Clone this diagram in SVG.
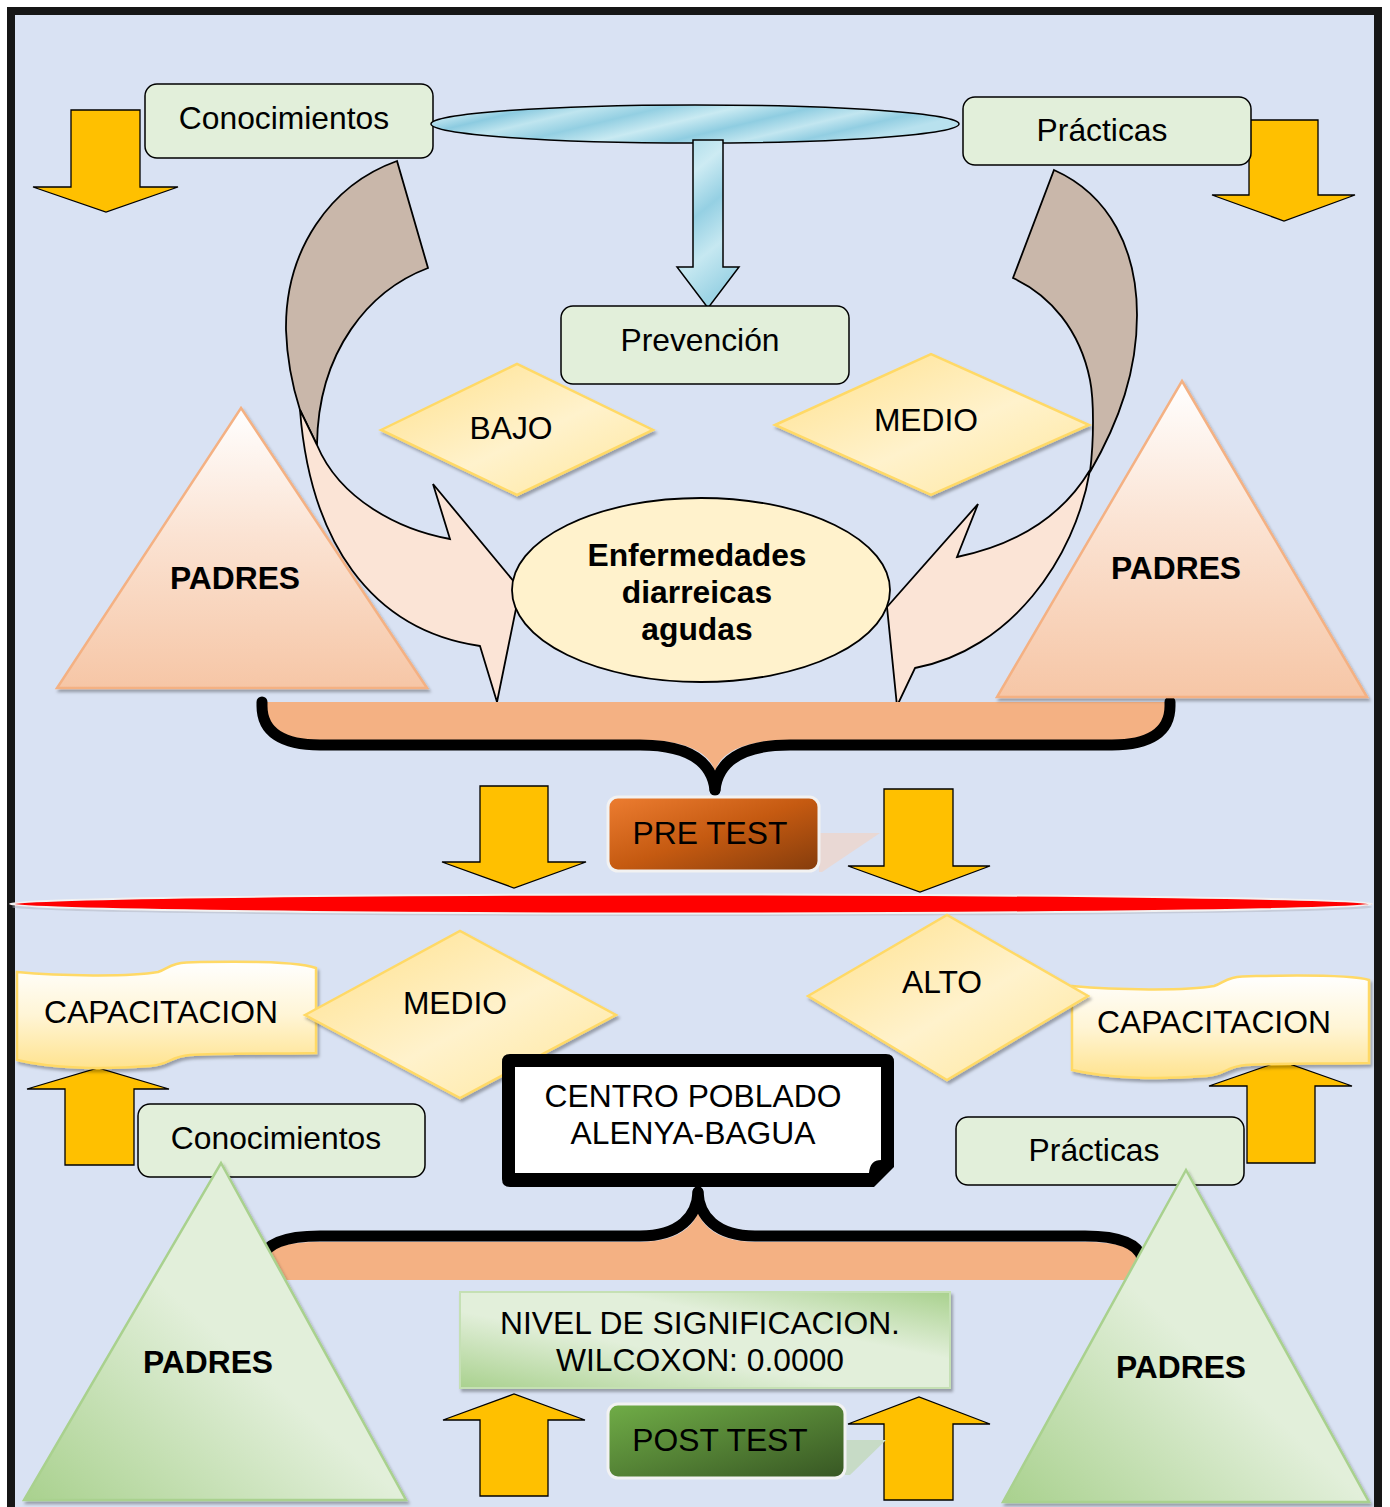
<svg xmlns="http://www.w3.org/2000/svg" width="1390" height="1507" viewBox="0 0 1390 1507">
<defs>
<style>
.t{font-family:"Liberation Sans",Arial,sans-serif;font-size:31.8px;text-anchor:middle;fill:#000}
.b{font-weight:bold}
.ya{fill:#ffc000;stroke:#000;stroke-width:1.3;stroke-linejoin:miter}
.gb{fill:#e2efda;stroke:#000;stroke-width:1.5}
.dia{fill:url(#gDia);stroke:#ffd966;stroke-width:2.5;filter:url(#sh)}
.ban{fill:url(#gBan);stroke:#ffd966;stroke-width:2.5;filter:url(#sh)}
.ot{fill:url(#gOT);stroke:#f4b183;stroke-width:2.5;filter:url(#sh)}
.gt{fill:url(#gGT);stroke:#a9d18e;stroke-width:2.5;filter:url(#sh)}
.brown{fill:#c9b7aa;stroke:#000;stroke-width:1.8;stroke-linejoin:miter}
.pink{fill:#fbe4d6;stroke:#000;stroke-width:1.8;stroke-linejoin:miter}
.brace{fill:none;stroke:#000;stroke-width:11;stroke-linecap:round}
</style>
<filter id="sh" x="-10%" y="-10%" width="125%" height="125%">
<feDropShadow dx="2" dy="3" stdDeviation="1.5" flood-color="#000" flood-opacity="0.3"/>
</filter>
<linearGradient id="gDia" x1="0" y1="0" x2="1" y2="1">
<stop offset="0" stop-color="#ffe08a"/><stop offset="0.55" stop-color="#fff2cc"/><stop offset="1" stop-color="#ffe699"/>
</linearGradient>
<linearGradient id="gBan" x1="0" y1="0" x2="0" y2="1">
<stop offset="0" stop-color="#ffffff"/><stop offset="0.5" stop-color="#fff5d6"/><stop offset="1" stop-color="#ffe38f"/>
</linearGradient>
<linearGradient id="gOT" x1="0" y1="0" x2="0" y2="1">
<stop offset="0" stop-color="#ffffff"/><stop offset="0.45" stop-color="#fbe3d3"/><stop offset="1" stop-color="#f6c6a6"/>
</linearGradient>
<linearGradient id="gGT" x1="0" y1="1" x2="1" y2="0">
<stop offset="0" stop-color="#a9d18e"/><stop offset="0.5" stop-color="#e2efda"/><stop offset="1" stop-color="#e2efda"/>
</linearGradient>
<linearGradient id="gNiv" x1="0" y1="1" x2="1" y2="0">
<stop offset="0" stop-color="#a9d18e"/><stop offset="0.4" stop-color="#e2efda"/><stop offset="0.65" stop-color="#e2efda"/><stop offset="1" stop-color="#a9d18e"/>
</linearGradient>
<linearGradient id="gPre" x1="0" y1="0" x2="1" y2="1">
<stop offset="0" stop-color="#ed7d31"/><stop offset="0.5" stop-color="#c55a11"/><stop offset="1" stop-color="#843c0c"/>
</linearGradient>
<linearGradient id="gPost" x1="0" y1="0" x2="1" y2="1">
<stop offset="0" stop-color="#70ad47"/><stop offset="0.5" stop-color="#548235"/><stop offset="1" stop-color="#375623"/>
</linearGradient>
<linearGradient id="gWater" x1="0" y1="0" x2="1" y2="0.3">
<stop offset="0" stop-color="#9fd6e6"/><stop offset="0.1" stop-color="#c6e9f2"/><stop offset="0.2" stop-color="#8ccbe0"/><stop offset="0.3" stop-color="#bfe5ef"/><stop offset="0.42" stop-color="#93cfe2"/><stop offset="0.55" stop-color="#c9eaf2"/><stop offset="0.68" stop-color="#8fcde1"/><stop offset="0.8" stop-color="#c2e6f0"/><stop offset="0.9" stop-color="#92cee2"/><stop offset="1" stop-color="#b8e1ee"/>
</linearGradient>
<linearGradient id="gWaterV" x1="0" y1="0" x2="0.3" y2="1">
<stop offset="0" stop-color="#a7dae8"/><stop offset="0.25" stop-color="#cdebf3"/><stop offset="0.5" stop-color="#95d0e3"/><stop offset="0.75" stop-color="#c6e8f1"/><stop offset="1" stop-color="#9dd4e5"/>
</linearGradient>
</defs>

<rect id="frame" x="11" y="11" width="1367" height="1515" fill="#d9e2f3" stroke="#161616" stroke-width="8"/>

<g id="connectors">
<path class="brown" d="M397,161 C330,185 285,250 286,330 C287,360 292,385 300,410 L317,445 C318,350 370,290 428,268 Z"/>
<path class="pink" d="M300,410 C310,540 370,630 480,646 L497,702 L520,589 L433,484 L450,539 C400,530 340,500 317,445 Z"/>
<path class="brown" d="M1054,170 C1110,195 1137,250 1137,315 C1137,370 1120,420 1090,472 C1094,440 1094,400 1090,380 C1080,330 1050,295 1013,278 Z"/>
<path class="pink" d="M1090,470 C1075,560 1010,650 915,668 L897,706 L887,607 L978,504 L957,557 C1010,546 1060,520 1090,470 Z"/>
<path d="M262,702 L1170,702 L1170,706 C1170,728 1150,740 1112,740 L790,740 C745,740 720,752 715,772 C710,752 685,740 640,740 L320,740 C282,740 262,728 262,706 Z" fill="#f4b183"/>
<path class="brace" d="M262,702 L262,706 C262,732 282,745 320,745 L640,745 C690,745 712,762 715,790"/>
<path class="brace" d="M1170,702 L1170,706 C1170,732 1150,745 1112,745 L790,745 C740,745 718,762 715,790"/>
<path d="M262,1280 L262,1262 C265,1248 285,1242 320,1242 L640,1242 C675,1242 693,1228 698,1212 C703,1228 721,1242 755,1242 L1085,1242 C1118,1242 1138,1248 1142,1262 L1142,1280 Z" fill="#f4b183"/>
<path class="brace" d="M262,1258 C266,1244 285,1236 320,1236 L640,1236 C680,1236 697,1216 698,1192"/>
<path class="brace" d="M1142,1258 C1138,1244 1119,1236 1085,1236 L755,1236 C716,1236 699,1216 698,1192"/>
<polygon class="ya" points="71,110 140,110 140,187 178,187 106,212 33,187 71,187"/>
<polygon class="ya" points="1249,120 1318,120 1318,195 1355,195 1284,221 1212,195 1249,195"/>
<polygon class="ya" points="480,786 548,786 548,862 586,862 514,888 442,862 480,862"/>
<polygon class="ya" points="884,789 953,789 953,866 990,866 920,892 848,866 884,866"/>
<polygon class="ya" points="65,1165 134,1165 134,1089 169,1089 98,1068 27,1089 65,1089"/>
<polygon class="ya" points="1247,1163 1315,1163 1315,1086 1352,1086 1281,1061 1209,1086 1247,1086"/>
<polygon class="ya" points="480,1496 548,1496 548,1420 585,1420 514,1394 443,1420 480,1420"/>
<polygon class="ya" points="884,1500 953,1500 953,1424 990,1424 919,1397 848,1424 884,1424"/>
</g>

<g id="conocimientos-top">
<rect class="gb" x="145" y="84" width="288" height="74" rx="12"/>
<text class="t" x="284" y="129">Conocimientos</text>
</g>
<g id="practicas-top">
<rect class="gb" x="963" y="97" width="288" height="68" rx="12"/>
<text class="t" x="1102" y="141">Prácticas</text>
</g>
<g id="bar-top">
<ellipse cx="695" cy="124" rx="264" ry="19" fill="url(#gWater)" stroke="#000" stroke-width="1.5"/>
<polygon points="693,140 723,140 723,267 739,267 708,308 677,267 693,267" fill="url(#gWaterV)" stroke="#000" stroke-width="1.5"/>
</g>
<g id="prevencion">
<rect class="gb" x="561" y="306" width="288" height="78" rx="12"/>
<text class="t" x="700" y="351">Prevención</text>
</g>
<g id="bajo">
<polygon class="dia" points="381,430 517,364 653,430 517,495"/>
<text class="t" x="511" y="439">BAJO</text>
</g>
<g id="medio-top">
<polygon class="dia" points="775,425 931,354 1089,425 931,495"/>
<text class="t" x="926" y="431">MEDIO</text>
</g>
<g id="padres-top-left">
<polygon class="ot" points="241,408 427,688 57,688"/>
<text class="t b" x="235" y="589">PADRES</text>
</g>
<g id="padres-top-right">
<polygon class="ot" points="1182,381 1367,697 997,697"/>
<text class="t b" x="1176" y="579">PADRES</text>
</g>
<g id="enfermedades">
<ellipse cx="701" cy="590" rx="189" ry="92" fill="#fff2cc" stroke="#000" stroke-width="1.8"/>
<text class="t b" x="697" y="566">Enfermedades</text>
<text class="t b" x="697" y="603">diarreicas</text>
<text class="t b" x="697" y="640">agudas</text>
</g>
<g id="pre-test">
<polygon points="819,833 880,833 822,872 819,872" fill="#e9d8d4"/>
<rect x="608" y="797" width="211" height="74" rx="10" fill="url(#gPre)" stroke="#f2f2f2" stroke-width="3"/>
<text class="t" x="710" y="844">PRE TEST</text>
</g>

<g id="divider">
<ellipse cx="692" cy="907" rx="680" ry="9" fill="#b8bcc8" opacity="0.6"/>
<ellipse cx="691" cy="904" rx="681" ry="9.5" fill="#ff0000" stroke="#f2f2f2" stroke-width="2"/>
</g>

<g id="capacitacion-left">
<path class="ban" d="M17,972 C60,976 130,977 158,972 C170,968 168,962 200,962 C250,961 300,962 316,968 L316,1053 C280,1054 220,1053 190,1055 C168,1057 172,1064 150,1066 C100,1070 50,1068 17,1060 Z"/>
<text class="t" x="161" y="1023">CAPACITACION</text>
</g>
<g id="capacitacion-right">
<path class="ban" d="M1072,986 C1116,990 1186,991 1214,986 C1226,982 1224,976 1256,976 C1306,975 1356,976 1369,980 L1369,1063 C1333,1064 1276,1063 1246,1065 C1224,1067 1228,1074 1206,1076 C1156,1080 1106,1078 1072,1070 Z"/>
<text class="t" x="1214" y="1033">CAPACITACION</text>
</g>
<g id="medio-bottom">
<polygon class="dia" points="305,1015 460,931 616,1015 460,1098"/>
<text class="t" x="455" y="1014">MEDIO</text>
</g>
<g id="alto">
<polygon class="dia" points="808,996 947,915 1088,996 947,1080"/>
<text class="t" x="942" y="993">ALTO</text>
</g>
<g id="centro-poblado">
<path d="M510,1054 L886,1054 Q894,1054 894,1062 L894,1167 L874,1187 L510,1187 Q502,1187 502,1179 L502,1062 Q502,1054 510,1054 Z" fill="#000"/>
<path d="M515,1067 L881,1067 L881,1160 Q870,1160 869,1173 L515,1173 Z" fill="#fff"/>
<text class="t" x="693" y="1107">CENTRO POBLADO</text>
<text class="t" x="693" y="1144">ALENYA-BAGUA</text>
</g>
<g id="conocimientos-bottom">
<rect class="gb" x="138" y="1104" width="287" height="73" rx="12"/>
<text class="t" x="276" y="1149">Conocimientos</text>
</g>
<g id="practicas-bottom">
<rect class="gb" x="956" y="1117" width="288" height="68" rx="12"/>
<text class="t" x="1094" y="1161">Prácticas</text>
</g>
<g id="padres-bottom-left">
<polygon class="gt" points="221,1163 406,1500 24,1500"/>
<text class="t b" x="208" y="1373">PADRES</text>
</g>
<g id="padres-bottom-right">
<polygon class="gt" points="1186,1170 1369,1502 1003,1502"/>
<text class="t b" x="1181" y="1378">PADRES</text>
</g>
<g id="nivel">
<rect x="460" y="1292" width="490" height="96" fill="url(#gNiv)" stroke="#c5e0b4" stroke-width="2" filter="url(#sh)"/>
<text class="t" x="700" y="1334">NIVEL DE SIGNIFICACION.</text>
<text class="t" x="700" y="1371">WILCOXON: 0.0000</text>
</g>
<g id="post-test">
<polygon points="845,1440 886,1440 850,1475 845,1475" fill="#c7dbc6"/>
<rect x="608" y="1404" width="237" height="74" rx="10" fill="url(#gPost)" stroke="#f2f2f2" stroke-width="3"/>
<text class="t" x="720" y="1451">POST TEST</text>
</g>
</svg>
